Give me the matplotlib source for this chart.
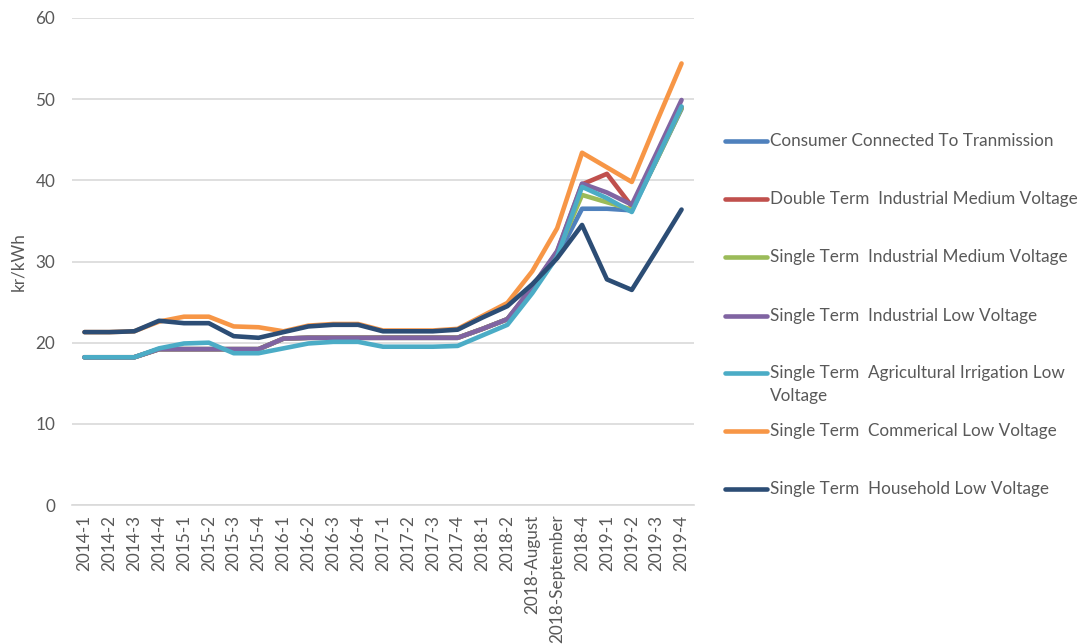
import matplotlib
matplotlib.use("Agg")
import matplotlib.pyplot as plt
from matplotlib.lines import Line2D

# Tariff periods
categories = ['2014-1', '2014-2', '2014-3', '2014-4', '2015-1', '2015-2', '2015-3', '2015-4',
              '2016-1', '2016-2', '2016-3', '2016-4', '2017-1', '2017-2', '2017-3', '2017-4',
              '2018-1', '2018-2', '2018-August', '2018-September', '2018-4',
              '2019-1', '2019-2', '2019-3', '2019-4']

# Electricity tariffs, kr/kWh
transmission = [18.2, 18.2, 18.2, 19.2, 19.2, 19.2, 19.2, 19.2, 20.5, 20.6, 20.6, 20.6, 20.6,
                20.6, 20.6, 20.6, 21.7, 22.9, 26.5, 30.6, 36.5, 36.5, 36.3, 42.5, 48.8]
double_industrial_mv = [18.2, 18.2, 18.2, 19.2, 19.2, 19.2, 19.2, 19.2, 20.5, 20.6, 20.6, 20.6, 20.6,
                        20.6, 20.6, 20.6, 21.7, 22.9, 26.8, 31.2, 39.5, 40.8, 36.8, 42.8, 49.0]
single_industrial_mv = [18.2, 18.2, 18.2, 19.2, 19.2, 19.2, 19.2, 19.2, 20.5, 20.6, 20.6, 20.6, 20.6,
                        20.6, 20.6, 20.6, 21.7, 22.9, 26.6, 31.0, 38.2, 37.3, 36.4, 42.5, 48.9]
single_industrial_lv = [18.2, 18.2, 18.2, 19.2, 19.2, 19.2, 19.2, 19.2, 20.5, 20.6, 20.6, 20.6, 20.6,
                        20.6, 20.6, 20.6, 21.7, 22.9, 26.9, 31.3, 39.6, 38.5, 37.0, 43.4, 49.9]
agri_irrigation_lv = [18.2, 18.2, 18.2, 19.3, 19.9, 20.0, 18.7, 18.7, 19.3, 19.9, 20.1, 20.1, 19.5,
                      19.5, 19.5, 19.6, 20.9, 22.2, 26.1, 30.6, 39.2, 37.8, 36.1, 42.6, 49.1]
commercial_lv = [21.3, 21.3, 21.4, 22.6, 23.2, 23.2, 22.0, 21.9, 21.4, 22.1, 22.3, 22.3, 21.5,
                 21.5, 21.5, 21.7, 23.3, 24.9, 28.8, 34.1, 43.4, 41.6, 39.8, 47.2, 54.4]
household_lv = [21.3, 21.3, 21.4, 22.7, 22.4, 22.4, 20.8, 20.6, 21.3, 22.0, 22.2, 22.2, 21.4,
                21.4, 21.4, 21.6, 23.1, 24.5, 27.2, 30.4, 34.5, 27.8, 26.5, 31.4, 36.4]

series = [
    ("Consumer Connected To Tranmission", transmission, "#4F81BD"),
    ("Double Term  Industrial Medium Voltage", double_industrial_mv, "#C0504D"),
    ("Single Term  Industrial Medium Voltage", single_industrial_mv, "#9BBB59"),
    ("Single Term  Industrial Low Voltage", single_industrial_lv, "#8064A2"),
    ("Single Term  Agricultural Irrigation Low\nVoltage", agri_irrigation_lv, "#4BACC6"),
    ("Single Term  Commerical Low Voltage", commercial_lv, "#F79646"),
    ("Single Term  Household Low Voltage", household_lv, "#2C4D75"),
]

FONT = "Lato"
GREY = "#595959"
FS = 12.3

W, H = 1084, 644
fig = plt.figure(figsize=(W / 100, H / 100), dpi=100)
ax = fig.add_axes([72 / W, 1 - 505 / H, (694 - 72) / W, (505 - 18) / H])

x = list(range(len(categories)))
for label, vals, color in series:
    ax.plot(x, vals, color=color, lw=3.3, solid_joinstyle="round", solid_capstyle="round",
            zorder=3)

ax.set_xlim(-0.5, len(categories) - 0.5)
ax.set_ylim(0, 60)
ax.set_yticks(range(0, 61, 10))
ax.set_xticks(x)
ax.set_xticklabels(categories, rotation=90, fontfamily=FONT, fontsize=FS, color=GREY)
for t in ax.get_yticklabels():
    t.set_fontfamily(FONT)
    t.set_fontsize(FS)
    t.set_color(GREY)
ax.tick_params(axis="y", length=0, pad=12)
ax.tick_params(axis="x", length=0, pad=7)
ax.grid(axis="y", color="#D9D9D9", lw=1.2, zorder=0)
for side in ("left", "right", "top"):
    ax.spines[side].set_visible(False)
ax.spines["bottom"].set_color("#D9D9D9")
ax.spines["bottom"].set_linewidth(1.2)
ax.set_ylabel("kr/kWh", fontfamily=FONT, fontsize=FS, color=GREY)
ax.yaxis.set_label_coords(18 / W, 1 - 262 / H, transform=fig.transFigure)
ax.yaxis.label.set_verticalalignment("center")

# Legend drawn at the right-hand side
legend_rows = [141, 199, 257, 316, 373, 431, 489]
for (label, vals, color), ypx in zip(series, legend_rows):
    yf = 1 - ypx / H
    fig.add_artist(Line2D([725 / W, 767 / W], [yf, yf], color=color, lw=3.3,
                          solid_capstyle="round", transform=fig.transFigure))
    fig.text(770 / W, yf, label.split("\n")[0], fontfamily=FONT, fontsize=FS, color=GREY,
             va="center", ha="left")
    if "\n" in label:
        fig.text(770 / W, 1 - (ypx + 23) / H, label.split("\n")[1], fontfamily=FONT,
                 fontsize=FS, color=GREY, va="center", ha="left")

fig.savefig("out.png", dpi=100)
